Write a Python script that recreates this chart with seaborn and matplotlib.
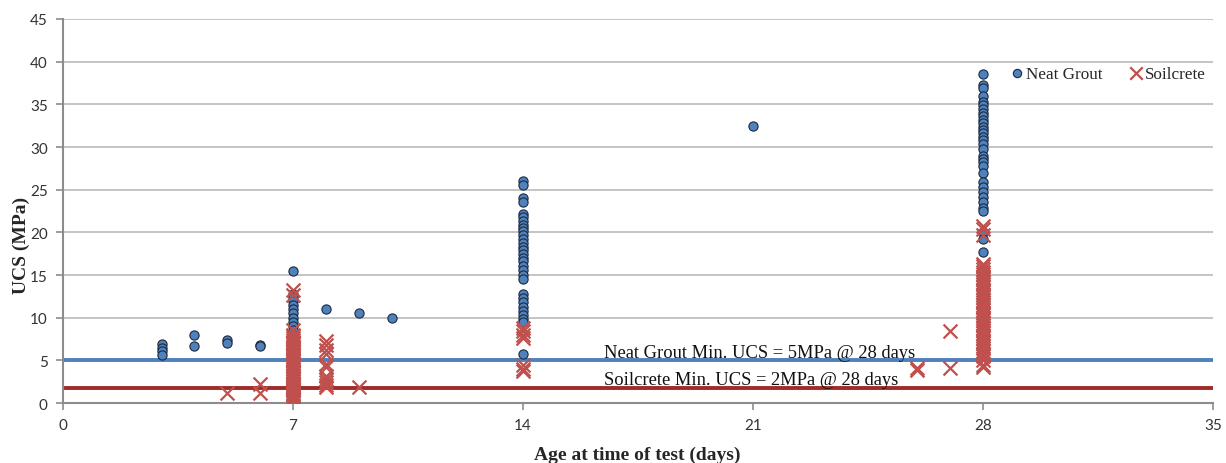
import matplotlib
matplotlib.use("Agg")
import matplotlib.pyplot as plt
import seaborn as sns
import pandas as pd

# ---------------- data ----------------
grout_age = ([3, 3, 3, 3, 4, 4, 5, 5, 6, 6]
             + [7] * 12 + [8, 9, 10]
             + [14] * 31 + [21]
             + [28] * 33)
grout_ucs = ([6.9, 6.5, 6.1, 5.6, 8.0, 6.7, 7.4, 7.0, 6.8, 6.7]
             + [15.5, 12.8, 12.4, 12.0, 11.5, 11.0, 10.5, 10.0, 9.5, 9.0, 8.5, 8.0]
             + [11.0, 10.5, 10.0]
             + [26.0, 25.6, 24.0, 23.5, 22.2, 21.8, 21.3, 20.9, 20.5, 20.1, 19.7,
                19.2, 18.8, 18.3, 17.9, 17.5, 17.0, 16.6, 16.0, 15.6, 15.0, 14.5,
                12.8, 12.3, 11.8, 11.3, 10.8, 10.3, 9.8, 9.5, 5.7]
             + [32.5]
             + [38.6, 37.3, 36.9, 36.0, 35.3, 34.9, 34.4, 34.0, 33.6, 33.2, 32.8,
                32.4, 32.0, 31.6, 31.2, 30.8, 30.4, 29.8, 29.0, 28.6, 28.3, 27.8,
                27.0, 25.9, 25.3, 24.7, 24.1, 23.5, 22.9, 22.5, 20.0, 19.2, 17.7])

soil_7 = [13.2, 12.6, 8.5, 8.0, 7.8, 7.6, 7.4, 7.2, 7.0, 6.9, 6.7, 6.5, 6.3, 6.1,
          6.0, 5.8, 5.6, 5.4, 5.2, 5.0, 4.9, 4.7, 4.5, 4.3, 4.2, 4.0, 3.8, 3.6,
          3.5, 3.3, 3.1, 3.0, 2.8, 2.6, 2.4, 2.2, 2.0, 1.9, 1.7, 1.5, 1.4, 1.2,
          1.0, 0.9, 0.7, 0.5, 0.4, 0.2]
soil_8 = [7.3, 6.8, 6.2, 5.8, 4.6, 4.2, 3.2, 2.8, 2.5, 2.1, 1.9]
soil_14 = [8.8, 8.4, 8.0, 7.6, 4.4, 4.0, 3.7]
soil_28 = [20.8, 20.4, 19.7, 16.3, 16.0, 15.7, 15.4, 15.1, 14.8, 14.5, 14.2, 13.9,
           13.6, 13.3, 13.0, 12.7, 12.4, 12.1, 11.8, 11.5, 11.2, 10.9, 10.6, 10.3,
           10.0, 9.7, 9.4, 9.1, 8.8, 8.5, 8.2, 7.9, 7.6, 7.3, 7.0, 6.7, 6.4, 6.1,
           5.8, 5.5, 5.0, 4.5, 4.2]
soil_age = ([5, 6, 6] + [7] * len(soil_7) + [8] * len(soil_8) + [9]
            + [14] * len(soil_14) + [26, 26, 27, 27] + [28] * len(soil_28))
soil_ucs = ([1.2, 2.2, 1.2] + soil_7 + soil_8 + [1.9] + soil_14
            + [4.1, 3.9, 8.4, 4.1] + soil_28)

grout_min = 5.0
soil_min = 1.7
grout_min_label = "Neat Grout Min. UCS = 5MPa @ 28 days"
soil_min_label = "Soilcrete Min. UCS = 2MPa @ 28 days"
x_ticks = [0, 7, 14, 21, 28, 35]
y_ticks = [0, 5, 10, 15, 20, 25, 30, 35, 40, 45]

df_g = pd.DataFrame({"age": grout_age, "ucs": grout_ucs})
df_s = pd.DataFrame({"age": soil_age, "ucs": soil_ucs})

# ---------------- style ----------------
sns.set_theme(style="white")
plt.rcParams["font.family"] = ["Liberation Serif", "DejaVu Serif"]

BLUE = "#4F81BD"
RED = "#C0504D"
DARKRED = "#A02B28"
GRID = "#BFBFBF"
AXIS = "#8C8C8C"

fig = plt.figure(figsize=(12.26, 4.64), dpi=100)
ax = fig.add_axes([0.0514, 0.1293, 0.9380, 0.8276])

ax.set_xlim(0, 35)
ax.set_ylim(0, 45)
ax.set_xticks(x_ticks)
ax.set_yticks(y_ticks)
ax.yaxis.grid(True, color=GRID, linewidth=1.3)
ax.xaxis.grid(False)
ax.set_axisbelow(True)

# threshold lines
ax.axhline(grout_min, color=BLUE, linewidth=2.8, zorder=2)
ax.axhline(soil_min, color=DARKRED, linewidth=2.8, zorder=2)

sns.scatterplot(data=df_g, x="age", y="ucs", ax=ax, marker="o", s=44,
                color=BLUE, edgecolor="#1B2A3F", linewidth=0.8, zorder=3,
                label="Neat Grout")
sns.scatterplot(data=df_s, x="age", y="ucs", ax=ax, marker="x", s=100,
                color=RED, linewidth=1.6, zorder=4, label="Soilcrete")

ax.text(16.45, 5.35, grout_min_label, fontsize=13.3, color="#111111",
        va="baseline", ha="left", zorder=5)
ax.text(16.45, 2.2, soil_min_label, fontsize=13.3, color="#111111",
        va="baseline", ha="left", zorder=5)

for side in ["top", "right"]:
    ax.spines[side].set_visible(False)
for side in ["left", "bottom"]:
    ax.spines[side].set_color(AXIS)
    ax.spines[side].set_linewidth(1.5)

ax.tick_params(axis="both", which="major", direction="out", length=5,
               width=1.2, color=AXIS, labelsize=11, labelcolor="#333333",
               left=True, bottom=True)
for lab in ax.get_xticklabels() + ax.get_yticklabels():
    lab.set_fontfamily(["Lato", "DejaVu Sans"])
ax.tick_params(axis="x", pad=6)
ax.tick_params(axis="y", pad=6)

ax.set_xlabel("Age at time of test (days)", fontsize=14, fontweight="bold",
              va="center")
ax.set_ylabel("UCS (MPa)", fontsize=14, fontweight="bold", va="center")
ax.xaxis.set_label_coords(0.499, -0.133)
ax.yaxis.set_label_coords(-0.036, 0.414)

leg = ax.legend(loc="center right", bbox_to_anchor=(1.004, 0.857), ncol=2,
                frameon=False, fontsize=12.3, handletextpad=0.1,
                handlelength=0.8, columnspacing=1.6, markerscale=0.9,
                borderaxespad=0.3)

fig.savefig("out.png", dpi=100)
